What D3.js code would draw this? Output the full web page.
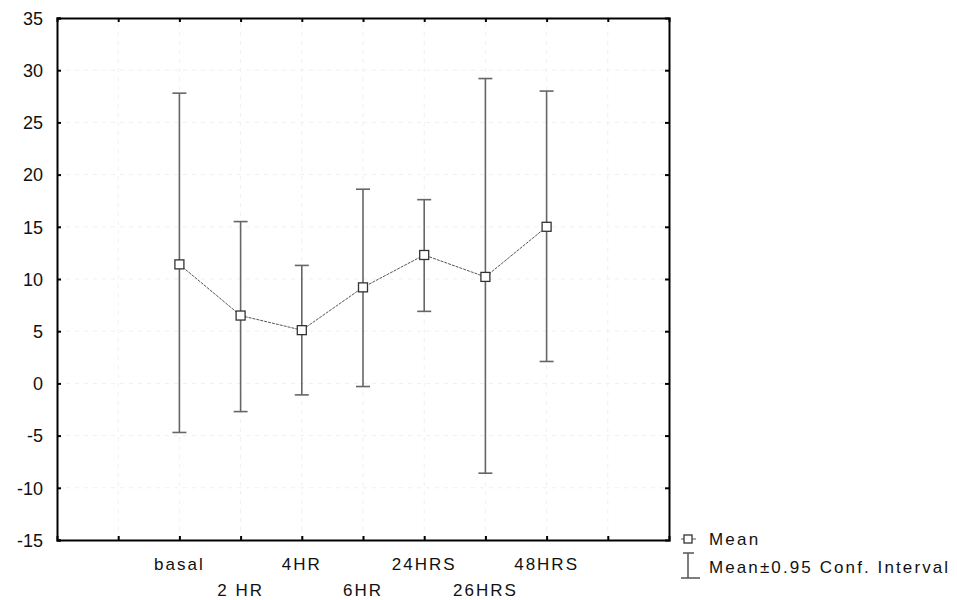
<!doctype html>
<html>
<head>
<style>
    body { margin: 0; background: #fff; }
    text { font-family: "Liberation Sans", Arial, sans-serif; fill: #111; }
</style>
</head>
<body>
<div id="chart"></div>
<script src="https://cdnjs.cloudflare.com/ajax/libs/d3/7.8.5/d3.min.js"></script>
<script>
// data
var categories = ["basal", "2 HR", "4HR", "6HR", "24HRS", "26HRS", "48HRS"];
var means = [11.4, 6.5, 5.1, 9.2, 12.3, 10.2, 15.0];
var upper = [27.8, 15.5, 11.3, 18.6, 17.6, 29.2, 28.0];
var lower = [-4.7, -2.7, -1.1, -0.3, 6.9, -8.6, 2.1];
var yTicks = [-15, -10, -5, 0, 5, 10, 15, 20, 25, 30, 35];

var width = 957, height = 600;
var margin = {top: 18, left: 57, right: 288, bottom: 60};

var svg = d3.select("#chart").append("svg")
    .attr("width", width)
    .attr("height", height);

var x = d3.scaleLinear().domain([0, 10]).range([margin.left, width - margin.right]);
var y = d3.scaleLinear().domain([-15, 35]).range([height - margin.bottom, margin.top]);
var xTicks = d3.range(1, 10);

// faint grid
svg.append("g").selectAll("line")
    .data(yTicks.slice(1, -1))
    .enter().append("line")
    .attr("x1", x(0)).attr("x2", x(10))
    .attr("y1", function(d) { return y(d); })
    .attr("y2", function(d) { return y(d); })
    .attr("stroke", "#f0f0f0")
    .attr("stroke-dasharray", "4,5");
svg.append("g").selectAll("line")
    .data(xTicks)
    .enter().append("line")
    .attr("y1", y(-15)).attr("y2", y(35))
    .attr("x1", function(d) { return x(d); })
    .attr("x2", function(d) { return x(d); })
    .attr("stroke", "#f0f0f0")
    .attr("stroke-dasharray", "4,5");

// axes, ticks inward on all four sides
svg.append("g")
    .attr("transform", "translate(" + x(0) + ",0)")
    .call(d3.axisLeft(y).tickValues(yTicks).tickSize(-4).tickPadding(14)
        .tickFormat(function(d) { return String(d); }))
    .call(function(g) {
        g.select(".domain").attr("stroke-width", 2);
        g.selectAll(".tick line").attr("stroke-width", 2);
        g.selectAll(".tick text").attr("font-size", "18px")
            .attr("font-family", "'Liberation Sans', Arial, sans-serif")
            .attr("fill", "#111").attr("dy", "0.35em");
    });
svg.append("g")
    .attr("transform", "translate(" + x(10) + ",0)")
    .call(d3.axisRight(y).tickValues(yTicks.slice(1, -1)).tickSize(-4).tickFormat(""))
    .call(function(g) {
        g.select(".domain").attr("stroke-width", 2);
        g.selectAll(".tick line").attr("stroke-width", 2);
    });
svg.append("g")
    .attr("transform", "translate(0," + y(-15) + ")")
    .call(d3.axisBottom(x).tickValues(xTicks).tickSize(-4).tickFormat(""))
    .call(function(g) {
        g.select(".domain").attr("stroke-width", 2);
        g.selectAll(".tick line").attr("stroke-width", 2);
    });
svg.append("g")
    .attr("transform", "translate(0," + y(35) + ")")
    .call(d3.axisTop(x).tickValues(xTicks).tickSize(-4).tickFormat(""))
    .call(function(g) {
        g.select(".domain").attr("stroke-width", 2);
        g.selectAll(".tick line").attr("stroke-width", 2);
    });

// category labels, staggered on two rows
svg.append("g").selectAll("text")
    .data(categories)
    .enter().append("text")
    .attr("x", function(d, i) { return x(i + 2); })
    .attr("y", function(d, i) { return i % 2 == 0 ? 570 : 596; })
    .attr("text-anchor", "middle")
    .attr("font-size", "17px")
    .attr("letter-spacing", "2px")
    .text(function(d) { return d; });

// error bars
var bars = svg.append("g").attr("stroke", "#666").attr("stroke-width", 1.6);
categories.forEach(function(c, i) {
    var cx = x(i + 2);
    bars.append("line").attr("x1", cx).attr("x2", cx).attr("y1", y(lower[i])).attr("y2", y(upper[i]));
    bars.append("line").attr("x1", cx - 7).attr("x2", cx + 7).attr("y1", y(lower[i])).attr("y2", y(lower[i]));
    bars.append("line").attr("x1", cx - 7).attr("x2", cx + 7).attr("y1", y(upper[i])).attr("y2", y(upper[i]));
});

// line through means
svg.append("path")
    .datum(means)
    .attr("fill", "none")
    .attr("stroke", "#555")
    .attr("stroke-width", 1)
    .attr("stroke-dasharray", "3,1")
    .attr("d", d3.line()
        .x(function(d, i) { return x(i + 2); })
        .y(function(d) { return y(d); }));

svg.append("g").selectAll("rect")
    .data(means)
    .enter().append("rect")
    .attr("x", function(d, i) { return x(i + 2) - 4.5; })
    .attr("y", function(d) { return y(d) - 4.5; })
    .attr("width", 9).attr("height", 9)
    .attr("fill", "#fff")
    .attr("stroke", "#333")
    .attr("stroke-width", 1.3);

// legend
var lg = svg.append("g");
lg.append("line").attr("x1", 681).attr("x2", 696).attr("y1", 539).attr("y2", 539).attr("stroke", "#555");
lg.append("rect").attr("x", 684).attr("y", 535).attr("width", 8).attr("height", 8)
    .attr("fill", "#fff").attr("stroke", "#333").attr("stroke-width", 1.3);
lg.append("text").attr("x", 709).attr("y", 545).attr("font-size", "17px").attr("letter-spacing", "2.2px").text("Mean");
lg.append("line").attr("x1", 688).attr("x2", 688).attr("y1", 553).attr("y2", 578).attr("stroke", "#555").attr("stroke-width", 1.5);
lg.append("line").attr("x1", 683).attr("x2", 694).attr("y1", 553).attr("y2", 553).attr("stroke", "#555").attr("stroke-width", 1.5);
lg.append("line").attr("x1", 681).attr("x2", 700).attr("y1", 578).attr("y2", 578).attr("stroke", "#555").attr("stroke-width", 1.5);
lg.append("text").attr("x", 709).attr("y", 573).attr("font-size", "17px").attr("letter-spacing", "2.1px").text("Mean±0.95 Conf. Interval");
</script>
</body>
</html>
